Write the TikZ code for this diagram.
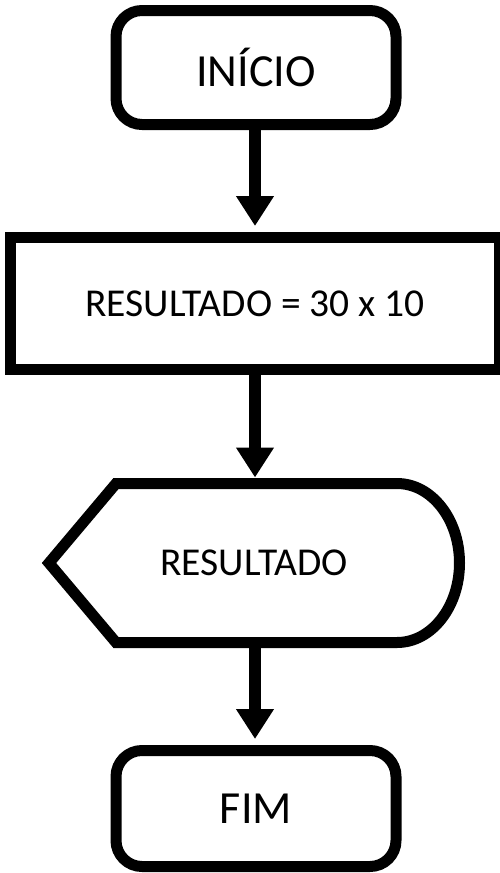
\documentclass[tikz,border=0pt]{standalone}
\usepackage{fontspec}
\setmainfont{Carlito}
\usetikzlibrary{arrows.meta}
\begin{document}
\begin{tikzpicture}[x=1pt,y=-1pt,
  shapeline/.style={line width=11pt, draw=black, line join=round},
  term/.style={shapeline, rectangle, rounded corners=26pt, minimum width=280pt, minimum height=114pt, inner sep=0pt, font=\fontsize{46}{50}\selectfont},
  procbox/.style={shapeline, line join=miter, rectangle, minimum width=489pt, minimum height=132pt, inner sep=0pt, font=\fontsize{39.5}{44}\selectfont},
  disptext/.style={inner sep=0pt, font=\fontsize{39.5}{44}\selectfont},
  flow/.style={line width=12pt, -{Triangle[width=36pt,length=30pt]}, shorten >=6pt}
]
\useasboundingbox (0,0) rectangle (499,873);
\node[term] (start) at (256,67.5) {INÍCIO};
\node[procbox] (proc) at (255,303.5) {RESULTADO = 30 x 10};
\draw[shapeline, line join=miter] (116,483.5) -- (397,483.5)
  arc[start angle=-90, end angle=90, x radius=62.5, y radius=79.5]
  -- (116,642.5) -- (49,563) -- cycle;
\node[disptext] (disp) at (254,563) {RESULTADO};
\coordinate (dtop) at (255,483.5);
\coordinate (dbot) at (255,642.5);
\node[term, minimum height=116pt] (end) at (256,808.5) {FIM};
\draw[flow] (start.south -| proc.north) -- (proc.north);
\draw[flow] (proc) -- (dtop);
\draw[flow, shorten <=5.5pt] (dbot) -- (end.north -| dbot);
\end{tikzpicture}
\end{document}
